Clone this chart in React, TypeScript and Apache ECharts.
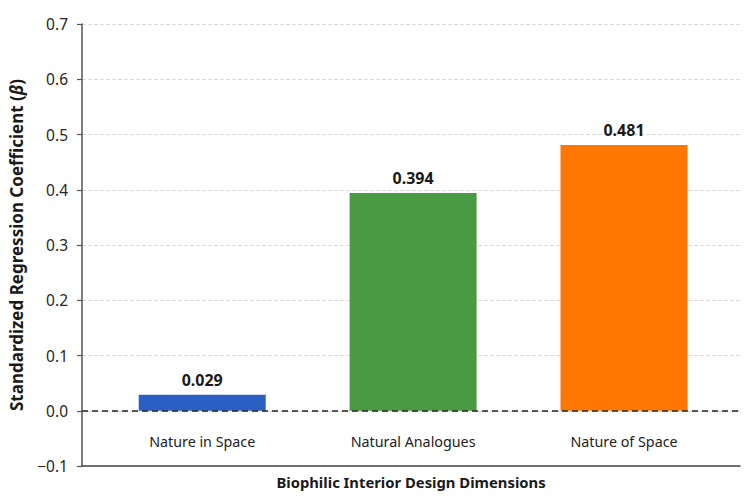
import React, { useEffect, useRef } from "react";
import * as echarts from "echarts";

const categories = ["Nature in Space", "Natural Analogues", "Nature of Space"];
const values = [0.029, 0.394, 0.481];
const barColors = ["#2a5fc4", "#4a9a44", "#ff7700"];
const yTicks = [-0.1, 0.0, 0.1, 0.2, 0.3, 0.4, 0.5, 0.6, 0.7];

const FONT = "Noto Sans";

export default function App() {
  const ref = useRef<HTMLDivElement>(null);
  useEffect(() => {
    if (!ref.current) return;
    const chart = echarts.init(ref.current, undefined, { renderer: "svg" });
    const option: any = {
      animation: false,
      backgroundColor: "#ffffff",
      textStyle: { fontFamily: FONT },
      grid: { left: 82, right: 13, top: 24, bottom: 30, containLabel: false },
      xAxis: {
        type: "value",
        min: -0.57,
        max: 2.55,
        name: "Biophilic Interior Design Dimensions",
        nameLocation: "middle",
        nameGap: 8,
        nameTextStyle: { fontFamily: FONT, fontSize: 14.8, fontWeight: "bold", color: "#1a1a1a" },
        axisLine: { show: true, onZero: false, lineStyle: { color: "#444", width: 1.5 } },
        axisTick: { show: false },
        splitLine: { show: false },
        axisLabel: {
          inside: true,
          margin: 18,
          customValues: [0, 1, 2],
          formatter: (v: number) => categories[Math.round(v)] ?? "",
          fontFamily: FONT,
          fontSize: 14.3,
          color: "#222",
        },
      },
      yAxis: {
        type: "value",
        min: yTicks[0],
        max: yTicks[yTicks.length - 1],
        interval: 0.1,
        name: "{a|Standardized Regression Coefficient (}{b|β}{a|)}",
        nameLocation: "middle",
        nameGap: 57,
        nameRotate: 90,
        nameTextStyle: {
          rich: {
            a: { fontFamily: FONT, fontSize: 17, fontWeight: "bold", color: "#1a1a1a" },
            b: { fontFamily: FONT, fontSize: 17, fontWeight: "bold", fontStyle: "italic", color: "#1a1a1a" },
          },
        },
        axisLine: { show: true, onZero: false, lineStyle: { color: "#555", width: 1.5 } },
        axisTick: { show: true, length: 5, lineStyle: { color: "#555", width: 1.2 } },
        axisLabel: {
          fontFamily: FONT,
          fontSize: 15.5,
          color: "#262626",
          margin: 14,
          formatter: (v: number) => {
            const s = Math.abs(v) < 1e-9 ? "0.0" : v.toFixed(1);
            return s.replace("-", "\u2212");
          },
        },
        splitLine: { show: true, lineStyle: { color: "#dcdcdc", type: "dashed", width: 1 } },
      },
      series: [
        {
          type: "bar",
          barWidth: 127,
          data: values.map((v, i) => ({
            value: [i, v],
            itemStyle: { color: barColors[i] },
          })),
          label: {
            show: true,
            position: "top",
            distance: 7,
            fontFamily: FONT,
            fontSize: 16,
            fontWeight: "bold",
            color: "#1a1a1a",
            formatter: (p: any) => p.value[1].toFixed(3),
          },
          markLine: {
            silent: true,
            symbol: "none",
            label: { show: false },
            lineStyle: { color: "#222", type: [6, 4], width: 1.5 },
            data: [{ yAxis: 0 }],
          },
        },
      ],
    };
    chart.setOption(option);
    return () => chart.dispose();
  }, []);
  return (
    <div
      ref={ref}
      style={{ position: "absolute", left: 0, top: 0, width: 753, height: 496 }}
    />
  );
}
